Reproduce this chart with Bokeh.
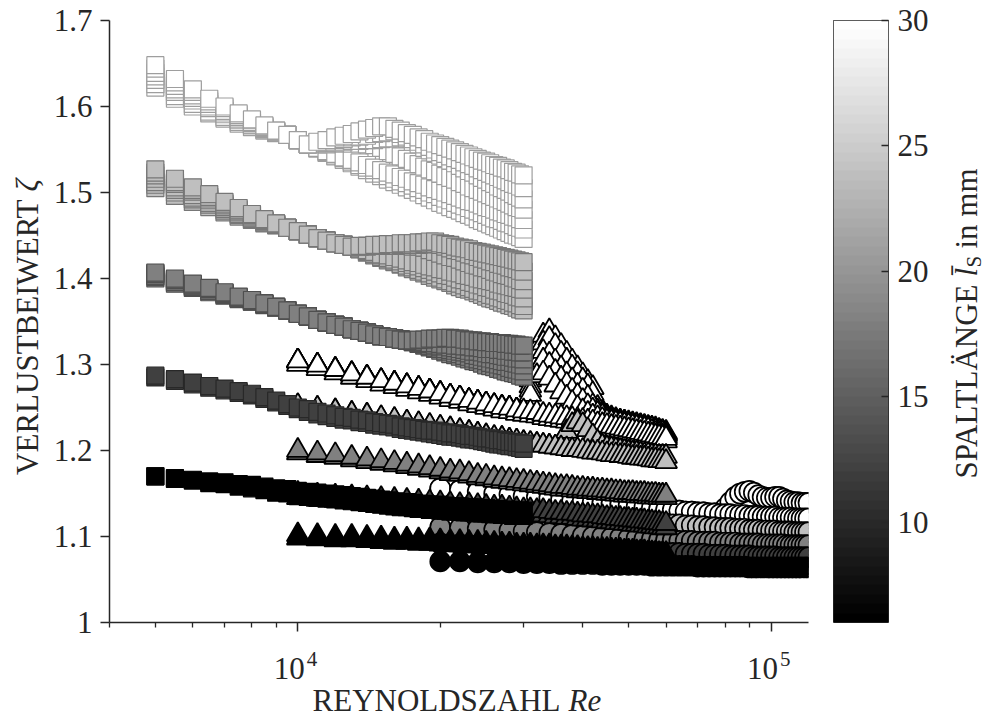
import numpy as np
from bokeh.embed import file_html
from bokeh.layouts import column, row
from bokeh.models import FixedTicker, Label, LinearAxis, LinearColorMapper, Range1d
from bokeh.plotting import figure
from bokeh.resources import INLINE

SERIF = "Liberation Serif"
INK = "#262626"

# Reynolds-number grids of the three channel geometries
RE_SQUARE = list(range(5000, 30001, 500))
RE_TRIANGLE = list(range(10000, 60001, 1000))
RE_CIRCLE = list(range(20000, 120001, 2000))

# gap lengths in mm (drawn from long to short) and axis ticks
GAP_LENGTHS = [30, 24, 18, 12, 6]
GAP_MIN, GAP_MAX = 6, 30
CBAR_TICKS = [10, 15, 20, 25, 30]
ZETA_TICKS = [1.0, 1.1, 1.2, 1.3, 1.4, 1.5, 1.6, 1.7]
RE_MAJOR = [10000, 100000]
RE_EXPONENTS = ["4", "5"]
RE_MINOR = [4000, 5000, 6000, 7000, 8000, 9000, 20000, 30000, 40000, 50000,
            60000, 70000, 80000, 90000]

# loss coefficient zeta x 1000, several runs per gap length
SQUARE_30 = [
    [1622,1609,1600,1592,1586,1580,1576,1572,1569,1567,1561,1556,1551,1546,1542,1538,1534,1530,1526,1522,1519,1515,1512,1509,1506,1503,1500,1497,1494,1491,1488,1486,1483,1481,1479,1476,1474,1472,1469,1467,1465,1463,1461,1459,1457,1455,1453,1451,1450,1448,1446],
    [1626,1612,1603,1594,1588,1582,1578,1573,1570,1567,1561,1556,1552,1547,1543,1540,1536,1532,1529,1526,1522,1519,1516,1513,1511,1508,1505,1503,1500,1498,1495,1493,1491,1488,1486,1484,1482,1480,1478,1476,1474,1472,1470,1469,1467,1465,1464,1462,1460,1459,1457],
    [1631,1617,1607,1598,1591,1584,1579,1574,1570,1567,1561,1556,1552,1548,1545,1541,1538,1535,1532,1529,1526,1523,1521,1518,1516,1513,1511,1509,1506,1504,1502,1500,1498,1496,1494,1492,1490,1489,1487,1485,1483,1482,1480,1478,1477,1475,1474,1472,1471,1469,1468],
    [1635,1620,1610,1600,1593,1586,1581,1575,1571,1567,1561,1556,1556,1556,1557,1557,1557,1557,1556,1555,1552,1548,1545,1542,1539,1536,1533,1530,1527,1525,1522,1519,1517,1515,1512,1510,1507,1505,1503,1501,1499,1497,1495,1493,1491,1489,1487,1485,1483,1482,1480],
    [1639,1624,1613,1603,1595,1588,1582,1576,1571,1567,1561,1556,1557,1558,1558,1559,1560,1560,1561,1561,1562,1563,1563,1564,1563,1559,1556,1552,1549,1546,1543,1540,1537,1534,1531,1528,1525,1523,1520,1517,1515,1512,1510,1507,1505,1503,1501,1498,1496,1494,1492],
    [1644,1628,1617,1606,1598,1590,1584,1577,1572,1567,1561,1556,1558,1559,1561,1562,1564,1565,1566,1568,1569,1570,1571,1568,1565,1562,1559,1556,1553,1550,1547,1545,1542,1540,1538,1535,1533,1531,1528,1526,1524,1522,1520,1518,1516,1514,1512,1510,1509,1507,1505],
    [1648,1632,1620,1609,1600,1592,1585,1578,1572,1567,1561,1556,1559,1561,1564,1566,1568,1571,1573,1575,1577,1577,1574,1572,1569,1567,1564,1562,1559,1557,1555,1553,1551,1549,1547,1545,1543,1541,1539,1537,1536,1534,1532,1531,1529,1528,1526,1524,1523,1521,1520],
]
SQUARE_24 = [
    [1505,1496,1489,1483,1477,1472,1468,1464,1462,1459,1455,1451,1447,1444,1441,1439,1437,1434,1430,1427,1424,1421,1419,1416,1413,1411,1408,1406,1403,1401,1399,1397,1395,1392,1390,1388,1387,1385,1383,1381,1379,1377,1376,1374,1372,1371,1369,1368,1366,1364,1363],
    [1509,1500,1492,1486,1479,1474,1469,1465,1462,1459,1455,1451,1447,1444,1441,1439,1437,1434,1431,1428,1425,1423,1420,1417,1415,1413,1410,1408,1406,1404,1401,1399,1397,1395,1394,1392,1390,1388,1386,1385,1383,1381,1380,1378,1377,1375,1374,1372,1371,1369,1368],
    [1512,1503,1494,1488,1481,1475,1470,1466,1462,1459,1455,1451,1447,1444,1441,1439,1437,1434,1432,1429,1427,1424,1422,1420,1418,1416,1414,1412,1410,1408,1406,1404,1403,1401,1399,1398,1396,1395,1393,1392,1390,1389,1387,1386,1385,1383,1382,1381,1379,1378,1377],
    [1516,1506,1497,1491,1483,1477,1471,1467,1463,1459,1455,1451,1447,1444,1441,1439,1437,1435,1433,1431,1428,1427,1425,1423,1421,1419,1418,1416,1414,1413,1411,1410,1408,1407,1406,1404,1403,1402,1400,1399,1398,1397,1396,1394,1393,1392,1391,1390,1389,1388,1387],
    [1520,1510,1501,1493,1485,1479,1473,1467,1463,1459,1455,1451,1447,1444,1441,1439,1437,1437,1437,1438,1438,1438,1438,1438,1438,1437,1437,1436,1433,1431,1429,1427,1425,1424,1422,1420,1418,1416,1415,1413,1412,1410,1408,1407,1405,1404,1403,1401,1400,1398,1397],
    [1523,1512,1503,1495,1487,1480,1474,1468,1464,1459,1455,1451,1447,1444,1441,1439,1437,1437,1438,1438,1438,1438,1438,1439,1439,1439,1439,1440,1440,1440,1439,1437,1435,1433,1432,1430,1428,1427,1425,1423,1422,1420,1419,1417,1416,1415,1413,1412,1411,1409,1408],
    [1527,1516,1506,1498,1489,1482,1475,1469,1464,1459,1455,1451,1447,1444,1441,1439,1437,1438,1438,1439,1439,1440,1440,1441,1441,1441,1442,1442,1443,1443,1441,1440,1439,1437,1436,1435,1434,1432,1431,1430,1429,1428,1427,1426,1425,1424,1423,1422,1421,1420,1419],
]
SQUARE_18 = [
    [1400,1394,1389,1384,1380,1376,1373,1369,1366,1363,1359,1356,1352,1349,1346,1344,1341,1339,1337,1335,1333,1332,1330,1329,1328,1326,1324,1322,1320,1318,1316,1314,1312,1311,1309,1307,1306,1304,1303,1301,1299,1298,1297,1295,1294,1292,1291,1290,1289,1287,1286],
    [1402,1396,1390,1386,1381,1377,1373,1370,1366,1363,1359,1356,1352,1349,1346,1344,1341,1339,1337,1335,1333,1332,1330,1329,1328,1326,1324,1323,1321,1319,1318,1316,1315,1313,1312,1310,1309,1307,1306,1305,1304,1302,1301,1300,1299,1298,1296,1295,1294,1293,1292],
    [1403,1396,1391,1386,1382,1377,1374,1370,1367,1363,1359,1356,1352,1349,1346,1344,1341,1339,1337,1335,1333,1332,1330,1329,1328,1327,1325,1324,1322,1321,1320,1318,1317,1316,1315,1314,1313,1311,1310,1309,1308,1307,1306,1305,1304,1303,1303,1302,1301,1300,1299],
    [1405,1398,1392,1388,1383,1378,1374,1371,1367,1363,1359,1356,1352,1349,1346,1344,1341,1339,1337,1335,1333,1332,1330,1329,1328,1327,1326,1325,1324,1323,1322,1321,1320,1319,1318,1317,1316,1315,1315,1314,1313,1312,1312,1311,1310,1309,1309,1308,1307,1307,1306],
    [1406,1399,1393,1388,1383,1378,1375,1371,1367,1363,1359,1356,1352,1349,1346,1344,1341,1339,1337,1335,1333,1332,1330,1329,1328,1327,1327,1326,1325,1325,1324,1323,1323,1322,1322,1321,1321,1320,1320,1319,1318,1318,1318,1317,1317,1316,1316,1315,1315,1314,1314],
    [1407,1400,1394,1389,1384,1379,1375,1371,1367,1363,1359,1356,1352,1349,1346,1344,1341,1339,1337,1335,1333,1332,1330,1329,1328,1328,1329,1329,1330,1330,1330,1331,1331,1330,1330,1329,1328,1328,1327,1327,1326,1326,1325,1325,1325,1324,1324,1323,1323,1322,1322],
]
SQUARE_12 = [
    [1285,1281,1277,1273,1270,1267,1264,1260,1256,1252,1248,1245,1242,1240,1238,1236,1235,1233,1232,1230,1229,1228,1227,1225,1224,1223,1222,1221,1220,1219,1218,1217,1216,1216,1215,1214,1213,1213,1212,1211,1210,1209,1208,1207,1207,1206,1205,1205,1204,1203,1202],
    [1287,1283,1279,1275,1272,1269,1266,1262,1258,1254,1250,1248,1245,1243,1241,1239,1238,1236,1235,1233,1232,1231,1230,1228,1227,1226,1225,1224,1223,1223,1222,1221,1220,1220,1219,1218,1217,1217,1216,1215,1214,1214,1213,1212,1212,1211,1210,1210,1209,1209,1208],
]
SQUARE_6 = [
    [1170,1167,1165,1162,1161,1158,1156,1154,1151,1150,1147,1146,1145,1144,1143,1142,1141,1140,1139,1138,1137,1136,1135,1134,1134,1133,1132,1132,1131,1131,1130,1130,1129,1129,1129,1128,1128,1128,1127,1127,1127,1126,1126,1126,1125,1125,1125,1124,1124,1124,1124],
    [1170,1168,1166,1164,1163,1161,1160,1158,1156,1155,1153,1152,1151,1150,1149,1148,1147,1146,1145,1144,1143,1142,1141,1140,1140,1139,1138,1138,1137,1137,1136,1136,1135,1135,1135,1134,1134,1134,1133,1133,1133,1132,1132,1132,1131,1131,1131,1130,1130,1130,1130],
]

TRIANGLE_30 = [
    [1304,1299,1294,1289,1285,1281,1278,1275,1272,1269,1266,1263,1261,1258,1256,1254,1252,1250,1249,1247,1246,1290,1318,1334,1339,1331,1322,1313,1304,1296,1288,1280,1273,1255,1243,1240,1238,1236,1234,1233,1231,1230,1229,1228,1227,1226,1225,1224,1223,1222,1221],
    [1304,1299,1294,1289,1285,1281,1278,1275,1272,1269,1266,1263,1261,1258,1256,1254,1252,1250,1249,1247,1246,1282,1310,1325,1330,1322,1313,1305,1297,1289,1282,1275,1266,1250,1242,1239,1237,1235,1234,1233,1232,1231,1230,1229,1228,1227,1226,1225,1223,1222,1220],
    [1304,1299,1294,1289,1285,1281,1278,1275,1272,1269,1266,1263,1261,1258,1256,1254,1252,1250,1249,1247,1246,1275,1300,1315,1312,1304,1296,1289,1282,1276,1270,1262,1252,1246,1241,1238,1236,1234,1233,1232,1231,1230,1229,1228,1227,1226,1225,1224,1222,1221,1219],
    [1304,1299,1294,1289,1285,1281,1278,1275,1272,1269,1266,1263,1261,1258,1256,1254,1252,1250,1249,1247,1246,1270,1292,1305,1300,1292,1284,1277,1270,1264,1258,1252,1247,1243,1240,1237,1235,1234,1233,1232,1231,1230,1229,1228,1227,1226,1225,1223,1222,1220,1218],
    [1304,1299,1294,1289,1285,1281,1278,1275,1272,1269,1266,1263,1261,1258,1256,1254,1252,1250,1249,1247,1246,1265,1287,1290,1284,1276,1268,1262,1256,1250,1246,1243,1240,1238,1236,1234,1233,1232,1231,1230,1229,1228,1227,1226,1225,1224,1222,1220,1219,1217,1216],
    [1300,1295,1290,1285,1281,1277,1274,1271,1268,1265,1262,1259,1257,1254,1252,1250,1248,1246,1245,1243,1242,1241,1240,1238,1237,1236,1235,1234,1233,1232,1231,1230,1229,1228,1227,1226,1225,1224,1223,1222,1221,1220,1219,1218,1217,1216,1215,1214,1213,1212,1211],
    [1304,1299,1294,1289,1285,1281,1278,1275,1272,1269,1266,1263,1261,1258,1256,1254,1252,1250,1249,1247,1246,1245,1244,1242,1241,1240,1239,1238,1237,1236,1235,1234,1233,1231,1230,1229,1228,1227,1226,1225,1224,1223,1222,1221,1220,1219,1218,1217,1216,1215,1214],
]
TRIANGLE_24 = [
    [1252,1249,1246,1243,1241,1238,1236,1233,1231,1229,1227,1225,1223,1221,1219,1217,1215,1214,1212,1211,1209,1208,1207,1206,1205,1204,1210,1222,1230,1233,1230,1224,1217,1210,1205,1203,1202,1201,1200,1199,1198,1197,1197,1196,1195,1195,1194,1194,1193,1193,1193],
    [1252,1249,1246,1243,1241,1238,1236,1233,1231,1229,1227,1225,1223,1221,1219,1217,1215,1214,1212,1211,1209,1208,1207,1206,1205,1204,1203,1202,1201,1201,1200,1199,1198,1198,1197,1196,1195,1195,1194,1194,1193,1192,1192,1191,1191,1190,1189,1189,1188,1188,1187],
]
TRIANGLE_18 = [
    [1197,1194,1192,1189,1187,1185,1183,1181,1179,1177,1175,1173,1172,1170,1168,1167,1165,1164,1163,1162,1161,1160,1159,1158,1157,1156,1155,1155,1154,1153,1153,1152,1152,1151,1151,1150,1150,1149,1149,1148,1148,1148,1147,1147,1147,1146,1146,1146,1145,1145,1145],
    [1200,1197,1195,1192,1190,1188,1186,1184,1182,1180,1178,1176,1175,1173,1171,1170,1168,1167,1166,1165,1164,1163,1162,1161,1160,1159,1158,1158,1157,1156,1156,1155,1155,1154,1154,1153,1153,1152,1152,1151,1151,1151,1150,1150,1150,1149,1149,1149,1148,1148,1148],
]
TRIANGLE_12 = [
    [1145,1143,1142,1141,1140,1139,1138,1137,1136,1135,1134,1133,1132,1132,1131,1130,1129,1129,1128,1127,1126,1126,1125,1125,1124,1123,1123,1122,1122,1121,1120,1120,1119,1119,1118,1117,1117,1116,1116,1115,1115,1114,1114,1113,1113,1112,1112,1111,1111,1110,1110],
    [1150,1148,1147,1146,1145,1144,1143,1142,1141,1140,1139,1138,1137,1137,1136,1135,1134,1134,1133,1132,1131,1131,1130,1130,1129,1128,1128,1127,1127,1126,1125,1125,1124,1124,1123,1122,1122,1121,1121,1120,1120,1119,1119,1118,1118,1117,1117,1116,1116,1115,1115],
]
TRIANGLE_6 = [
    [1098,1097,1096,1096,1095,1094,1093,1093,1092,1092,1091,1090,1090,1089,1089,1088,1088,1087,1087,1086,1086,1086,1085,1085,1085,1084,1084,1084,1083,1083,1082,1082,1082,1081,1081,1081,1080,1080,1080,1079,1079,1079,1078,1078,1078,1077,1077,1077,1076,1076,1076],
    [1102,1101,1100,1100,1099,1098,1097,1097,1096,1096,1095,1094,1094,1093,1093,1092,1092,1091,1091,1090,1090,1090,1089,1089,1089,1088,1088,1088,1087,1087,1086,1086,1086,1085,1085,1085,1084,1084,1084,1083,1083,1083,1082,1082,1082,1081,1081,1081,1080,1080,1080],
]

CIRCLE_30 = [
    [1156,1154,1152,1150,1149,1147,1146,1145,1143,1142,1141,1140,1139,1138,1137,1136,1135,1134,1133,1132,1131,1131,1130,1129,1129,1128,1128,1127,1127,1126,1133,1140,1146,1150,1152,1153,1151,1148,1146,1145,1145,1146,1146,1144,1142,1141,1140,1140,1139,1139,1139],
    [1153,1151,1149,1147,1145,1143,1142,1141,1139,1138,1137,1136,1135,1134,1133,1132,1131,1130,1129,1128,1127,1126,1125,1124,1124,1123,1123,1122,1122,1121,1121,1121,1120,1120,1120,1119,1119,1119,1118,1118,1118,1118,1117,1117,1117,1117,1116,1116,1116,1116,1116],
    [1156,1154,1152,1150,1149,1147,1146,1145,1143,1142,1141,1140,1139,1138,1137,1136,1135,1134,1133,1132,1131,1131,1130,1129,1129,1128,1128,1127,1127,1126,1126,1126,1125,1125,1125,1124,1124,1124,1123,1123,1123,1123,1122,1122,1122,1122,1121,1121,1121,1121,1121],
]
CIRCLE_24 = [
    [1136,1134,1133,1131,1130,1128,1127,1126,1125,1124,1122,1122,1121,1120,1119,1118,1118,1117,1116,1116,1115,1114,1114,1113,1113,1112,1112,1111,1111,1110,1110,1110,1109,1109,1109,1108,1108,1108,1107,1107,1107,1107,1106,1106,1106,1106,1105,1105,1105,1105,1105],
]
CIRCLE_18 = [
    [1111,1110,1109,1108,1107,1106,1105,1104,1103,1102,1101,1100,1100,1099,1099,1098,1098,1097,1097,1096,1096,1096,1095,1095,1095,1094,1094,1094,1094,1093,1093,1093,1093,1092,1092,1092,1092,1092,1091,1091,1091,1091,1091,1091,1090,1090,1090,1090,1090,1090,1090],
]
CIRCLE_12 = [
    [1092,1091,1090,1089,1089,1088,1087,1087,1086,1086,1085,1085,1084,1084,1083,1083,1083,1082,1082,1082,1081,1081,1081,1080,1080,1080,1080,1079,1079,1079,1079,1078,1078,1078,1078,1078,1077,1077,1077,1077,1077,1077,1076,1076,1076,1076,1076,1076,1076,1076,1076],
]
CIRCLE_6 = [
    [1071,1071,1070,1070,1070,1069,1069,1069,1068,1068,1068,1068,1067,1067,1067,1067,1067,1067,1066,1066,1066,1066,1066,1066,1066,1065,1065,1065,1065,1065,1065,1065,1065,1065,1065,1064,1064,1064,1064,1064,1064,1064,1064,1064,1064,1064,1064,1064,1064,1064,1064],
]

SQUARES = {30: SQUARE_30, 24: SQUARE_24, 18: SQUARE_18, 12: SQUARE_12, 6: SQUARE_6}
TRIANGLES = {30: TRIANGLE_30, 24: TRIANGLE_24, 18: TRIANGLE_18, 12: TRIANGLE_12, 6: TRIANGLE_6}
CIRCLES = {30: CIRCLE_30, 24: CIRCLE_24, 18: CIRCLE_18, 12: CIRCLE_12, 6: CIRCLE_6}

# page layout in px: left title strip | main panel (+ bottom strip) | colour bar | bar title
PAGE_W, PAGE_H = 984, 718
STRIP_L = 50                     # width of the left title strip
MAIN_R = 820                     # right edge of the main panel
CB_R_EDGE = 940                  # right edge of the colour-bar panel
FRAME_L, FRAME_R, FRAME_T, FRAME_B = 109, 808, 20, 622
MAIN_H = 640                     # main panel height (frame + tick room)
CB_L, CB_R = 833, 888
RE_LO, RE_HI = 4000, 120000
ZETA_LO, ZETA_HI = 1.0, 1.7
LABEL_SIZE = "31px"


def at_x(px):
    """Reynolds number sitting at page column px."""
    return RE_LO * (RE_HI / RE_LO) ** ((px - FRAME_L) / (FRAME_R - FRAME_L))


def grey(level):
    k = int(round(255 * max(0.0, min(1.0, level))))
    return "#%02x%02x%02x" % (k, k, k)


def text_strip(width, height, x_range, y_range, x_axis_type="linear",
               left=0, right=0, top=0, bottom=0):
    f = figure(width=width, height=height, x_range=x_range, y_range=y_range,
               x_axis_type=x_axis_type, output_backend="svg", toolbar_location=None,
               x_axis_location=None, y_axis_location=None,
               min_border_left=left, min_border_right=right,
               min_border_top=top, min_border_bottom=bottom)
    f.outline_line_color = None
    f.grid.visible = False
    f.background_fill_color = "white"
    f.border_fill_color = "white"
    return f


def put(fig, x, y, text, size=LABEL_SIZE, style="normal", align="left", angle=0.0,
        baseline="alphabetic", x_offset=0):
    fig.add_layout(Label(x=x, y=y, x_offset=x_offset, text=text, angle=angle,
                         text_align=align, text_baseline=baseline, text_font=SERIF,
                         text_font_size=size, text_font_style=style, text_color=INK))


# ---------------- main panel ----------------
p = figure(width=MAIN_R - STRIP_L, height=MAIN_H, x_axis_type="log",
           x_range=Range1d(RE_LO, RE_HI), y_range=Range1d(ZETA_LO, ZETA_HI),
           output_backend="svg", toolbar_location=None,
           min_border_left=FRAME_L - STRIP_L, min_border_right=MAIN_R - FRAME_R,
           min_border_top=FRAME_T, min_border_bottom=MAIN_H - FRAME_B)
p.outline_line_color = None
p.grid.visible = False
p.background_fill_color = "white"
p.border_fill_color = "white"

for ax in (p.xaxis[0], p.yaxis[0]):
    ax.axis_line_color = INK
    ax.axis_line_width = 1.5
    ax.major_tick_line_color = INK
    ax.major_tick_line_width = 1.5
    ax.minor_tick_line_color = INK
    ax.minor_tick_line_width = 1.3
    ax.major_tick_in = 0
    ax.major_tick_out = 9
    ax.minor_tick_in = 0
    ax.minor_tick_out = 5
    ax.major_label_text_font = SERIF
    ax.major_label_text_color = INK

p.yaxis[0].ticker = FixedTicker(ticks=ZETA_TICKS)
p.yaxis[0].major_label_overrides = {1: "1"}
p.yaxis[0].major_label_standoff = 8
p.yaxis[0].major_label_text_font_size = LABEL_SIZE
# decade labels are typeset in the strip below (10 with raised exponent)
p.xaxis[0].ticker = FixedTicker(ticks=RE_MAJOR, minor_ticks=RE_MINOR)
p.xaxis[0].major_label_overrides = {RE_MAJOR[0]: "", RE_MAJOR[1]: ""}
p.xaxis[0].major_label_text_font_size = "0px"
p.xaxis[0].major_label_standoff = 0

# long gaps first, so shorter gaps sit on top
for gap in GAP_LENGTHS:
    level = (gap - GAP_MIN) / (GAP_MAX - GAP_MIN)
    fill = grey(level)
    layers = [
        (SQUARES[gap], RE_SQUARE, "square", 17, grey(level * 0.62), 1.2),
        (TRIANGLES[gap], RE_TRIANGLE, "triangle", 22, "black", 1.8),
        (CIRCLES[gap], RE_CIRCLE, "circle", 20, "black", 1.7),
    ]
    for runs, re, marker, size, edge, lw in layers:
        for run in runs:
            n = min(len(re), len(run))
            p.scatter(re[:n], [v / 1000 for v in run[:n]], marker=marker, size=size,
                      fill_color=fill, line_color=edge, line_width=lw)

# ---------------- strip under the main panel: decades and x title ----------------
# same horizontal frame as the main panel, so Reynolds numbers line up
bottom = text_strip(MAIN_R - STRIP_L, PAGE_H - MAIN_H,
                    Range1d(RE_LO, RE_HI), Range1d(PAGE_H, MAIN_H), x_axis_type="log",
                    left=FRAME_L - STRIP_L, right=MAIN_R - FRAME_R)
for re, exp in zip(RE_MAJOR, RE_EXPONENTS):
    put(bottom, re, 668, "10", align="right", x_offset=7)
    put(bottom, re, 658, exp, size="21px", align="left", x_offset=9)
put(bottom, at_x(560), 700, "REYNOLDSZAHL", align="right")
put(bottom, at_x(568), 700, "Re", style="italic")

# ---------------- left strip: y title (read bottom to top) ----------------
left = text_strip(STRIP_L, PAGE_H, Range1d(0, STRIP_L), Range1d(FRAME_B, FRAME_T),
                  top=FRAME_T, bottom=PAGE_H - FRAME_B)
put(left, 27, 199, "VERLUSTBEIWERT", align="right", angle=np.pi / 2, baseline="middle")
put(left, 27, 191, "ζ", style="italic", angle=np.pi / 2, baseline="middle")

# ---------------- colour bar ----------------
cb = figure(width=CB_R_EDGE - MAIN_R, height=PAGE_H,
            x_range=Range1d(0, 1), y_range=Range1d(GAP_MIN, GAP_MAX),
            output_backend="svg", toolbar_location=None,
            x_axis_location=None, y_axis_location=None,
            min_border_left=CB_L - MAIN_R, min_border_right=CB_R_EDGE - CB_R,
            min_border_top=FRAME_T, min_border_bottom=PAGE_H - FRAME_B)
cb.grid.visible = False
cb.outline_line_color = INK
cb.outline_line_width = 1
cb.background_fill_color = "white"
cb.border_fill_color = "white"

ramp_palette = [grey(k / 255) for k in range(256)]
mapper = LinearColorMapper(palette=ramp_palette, low=GAP_MIN, high=GAP_MAX)
ramp = np.linspace(GAP_MIN, GAP_MAX, 64).reshape(64, 1)
cb.image(image=[ramp], x=0, y=GAP_MIN, dw=1, dh=GAP_MAX - GAP_MIN, color_mapper=mapper)

cb_axis = LinearAxis(ticker=FixedTicker(ticks=CBAR_TICKS), axis_line_color=None,
                     major_tick_in=7, major_tick_out=0, minor_tick_in=0, minor_tick_out=0,
                     major_tick_line_color=INK, major_tick_line_width=1.3,
                     major_label_standoff=9, major_label_text_font=SERIF,
                     major_label_text_font_size=LABEL_SIZE, major_label_text_color=INK)
cb.add_layout(cb_axis, "right")

# ---------------- right strip: colour-bar title (read bottom to top) ----------------
right = text_strip(PAGE_W - CB_R_EDGE, PAGE_H, Range1d(CB_R_EDGE, PAGE_W),
                   Range1d(FRAME_B, FRAME_T), top=FRAME_T, bottom=PAGE_H - FRAME_B)
put(right, 966, 284, "SPALTLÄNGE", align="right", angle=np.pi / 2, baseline="middle")
put(right, 966, 276, "l\u0304", style="italic", angle=np.pi / 2, baseline="middle")
put(right, 973, 267, "S", size="21px", angle=np.pi / 2, baseline="middle")
put(right, 966, 248, "in mm", angle=np.pi / 2, baseline="middle")

layout = row(left, column(p, bottom), cb, right)
with open("out.html", "w") as fh:
    fh.write(file_html(layout, INLINE, title="Verlustbeiwert"))
